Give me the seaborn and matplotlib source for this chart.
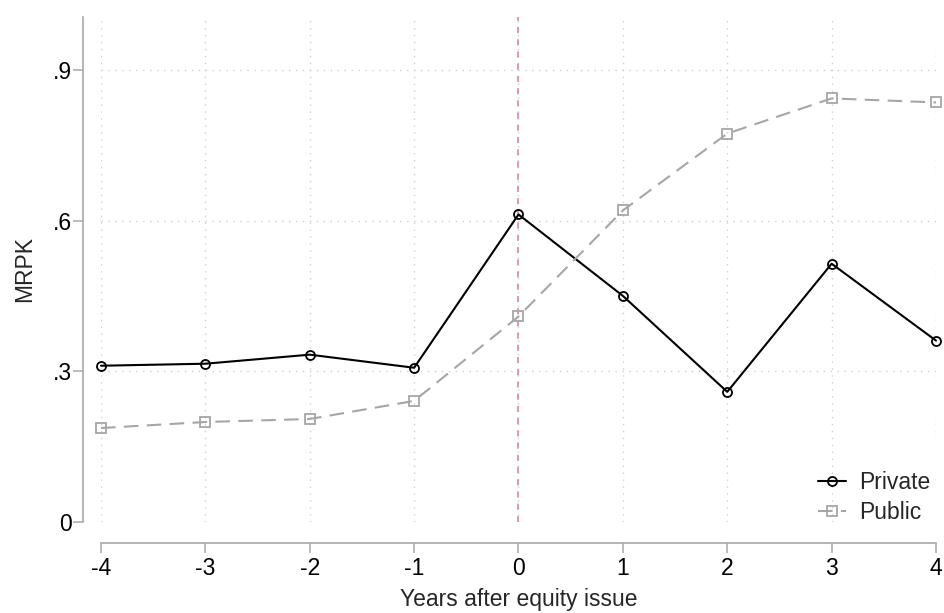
import matplotlib
matplotlib.use("Agg")
import matplotlib.pyplot as plt
import seaborn as sns
import pandas as pd

years = [-4, -3, -2, -1, 0, 1, 2, 3, 4]
private = [0.311, 0.315, 0.333, 0.307, 0.612, 0.450, 0.259, 0.514, 0.361]
public = [0.187, 0.199, 0.205, 0.241, 0.409, 0.620, 0.773, 0.843, 0.835]
yticks = [0, 0.3, 0.6, 0.9]
ytick_labels = ["0", ".3", ".6", ".9"]

sns.set_theme(style="white")
plt.rcParams['font.family'] = ['Liberation Sans', 'DejaVu Sans']

df = pd.DataFrame({
    "year": years * 2,
    "MRPK": private + public,
    "group": ["Private"] * len(years) + ["Public"] * len(years),
})

fig = plt.figure(figsize=(9.45, 6.13), dpi=100)
ax = fig.add_axes([101/945, 1-522/613, (936-101)/945, (522-17)/613])

sns.lineplot(data=df, x="year", y="MRPK", hue="group", style="group",
             palette={"Private": "black", "Public": "#a6a6a6"},
             markers={"Private": "o", "Public": "s"},
             dashes={"Private": "", "Public": (7, 4)},
             markerfacecolor="none", markersize=6.5, markeredgewidth=1.3,
             linewidth=1.5, ax=ax)
for line in ax.lines:
    line.set_markeredgecolor(line.get_color())
    line.set_clip_on(False)
    line.set_zorder(3)

ax.set_xlim(-4, 4)
ax.set_ylim(0, 1.005)
ax.set_yticks(yticks)
ax.set_yticklabels(ytick_labels)
ax.set_xticks(years)
ax.set_xticklabels([str(y) for y in years])

for y in yticks[1:]:
    ax.axhline(y, color="#cfcfcf", linestyle=(0, (1, 4)), linewidth=1.0, zorder=0)
for x in years:
    ax.axvline(x, color="#cfcfcf", linestyle=(0, (1, 4)), linewidth=1.0, zorder=0)
ax.axvline(0, color="#d07fa8", linestyle=(0, (4, 4)), linewidth=1.1, zorder=1)

for s in ["top", "right"]:
    ax.spines[s].set_visible(False)
ax.spines["left"].set_position(("outward", 13))
ax.spines["bottom"].set_position(("outward", 15))
ax.spines["left"].set_bounds(0, 1.005)
ax.spines["bottom"].set_bounds(-4, 4)
for s in ["left", "bottom"]:
    ax.spines[s].set_color("#a8a8a8")
    ax.spines[s].set_linewidth(1.2)

ax.tick_params(axis="both", which="major", length=7, width=1.1, color="#a8a8a8",
               labelsize=16.5, labelcolor="black", direction="out", left=True, bottom=True)
ax.tick_params(axis="x", pad=3)
ax.tick_params(axis="y", pad=1)

ax.set_xlabel("Years after equity issue", fontsize=16.5, labelpad=6)
ax.set_ylabel("MRPK", fontsize=16.5, labelpad=12)

leg = ax.legend(loc="lower right", frameon=False, fontsize=16.5, handlelength=1.22,
                handletextpad=0.55, labelspacing=0.3, borderaxespad=0,
                bbox_to_anchor=(1.004, -0.022))

fig.savefig("out.png", dpi=100)
